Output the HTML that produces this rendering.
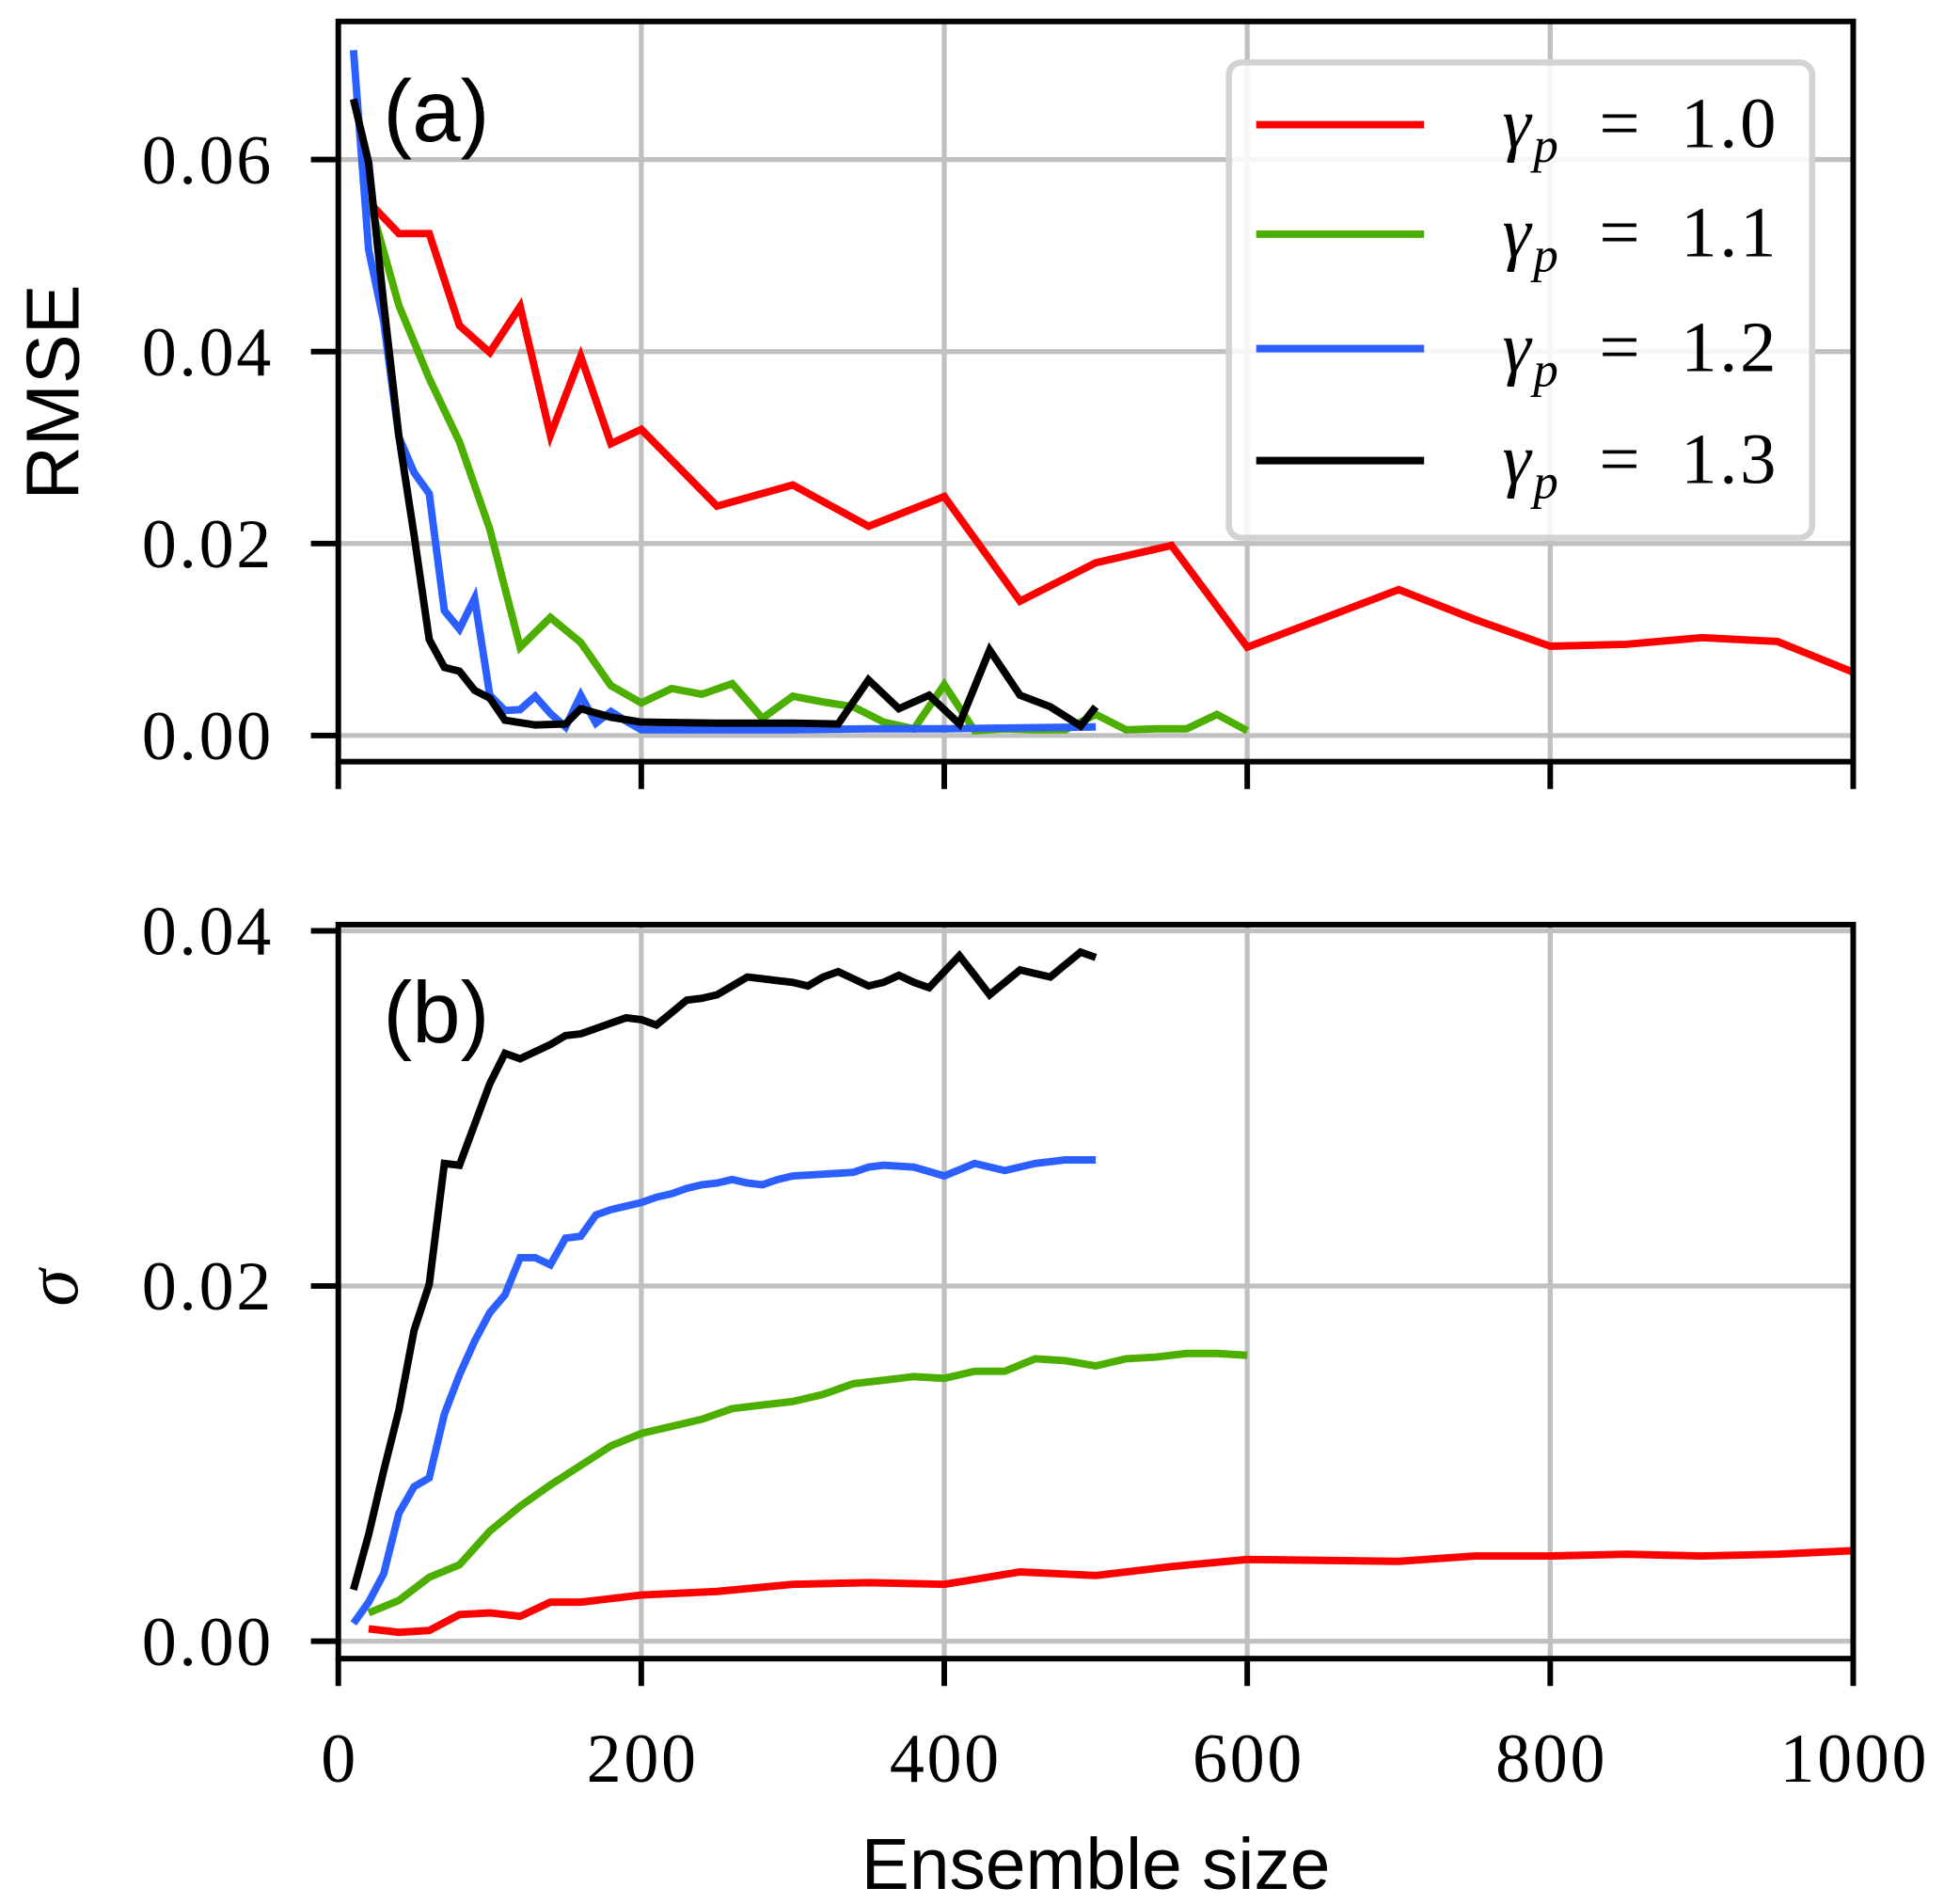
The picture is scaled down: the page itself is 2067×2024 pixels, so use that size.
<!DOCTYPE html>
<html><head><meta charset="utf-8"><style>
html,body{margin:0;padding:0;background:#fff;}
svg{display:block;}
</style></head><body>
<svg id="chart" width="2067" height="2024" viewBox="0 0 1563 1530" xmlns="http://www.w3.org/2000/svg">
<g id="gA"></g>
<g id="gB"></g>
</svg>
<script>
const xTicks = [0, 200, 400, 600, 800, 1000];
const yTicksA = [0.00, 0.02, 0.04, 0.06];
const yTicksB = [0.00, 0.02, 0.04];
const seriesNames = ["γp = 1.0", "γp = 1.1", "γp = 1.2", "γp = 1.3"];
const seriesLabels = ["1.0", "1.1", "1.2", "1.3"];
const colors = ["#ff0000", "#4caf00", "#2b5fff", "#000000"];

const rmseRedX = [20,40,60,80,100,120,140,160,180,200,250,300,350,400,450,500,550,600,700,750,800,850,900,950,1000];
const rmseRedY = [0.0556,0.0523,0.0523,0.0427,0.0399,0.0447,0.0313,0.0395,0.0304,0.0319,0.0239,0.0261,0.0218,0.0249,0.014,0.018,0.0198,0.0092,0.0152,0.0121,0.0093,0.0095,0.0102,0.0098,0.0066];
const rmseGreenX = [20,40,60,80,100,120,140,160,180,200,220,240,260,280,300,320,340,360,380,400,420,440,460,480,500,520,540,560,580,600];
const rmseGreenY = [0.056,0.0448,0.0372,0.0306,0.0215,0.0092,0.0123,0.0097,0.0052,0.0034,0.0049,0.0043,0.0054,0.0018,0.0041,0.0035,0.003,0.0014,0.0007,0.0053,0.0005,0.0007,0.0006,0.0006,0.0022,0.0006,0.0007,0.0007,0.0022,0.0005];
const rmseBlueX = [10,20,30,40,50,60,70,80,90,100,110,120,130,140,150,160,170,180,190,200,250,300,350,400,450,500];
const rmseBlueY = [0.0714,0.0506,0.0431,0.0311,0.0274,0.0252,0.013,0.0111,0.0143,0.0042,0.0026,0.0027,0.0041,0.0023,0.0009,0.0042,0.0013,0.0025,0.0015,0.0006,0.0006,0.0006,0.0007,0.0007,0.0008,0.0009];
const rmseBlackX = [10,20,30,40,50,60,70,80,90,100,110,130,150,160,180,200,250,300,330,350,370,390,410,430,450,470,490,500];
const rmseBlackY = [0.0663,0.0597,0.045,0.0312,0.0209,0.01,0.0071,0.0067,0.0047,0.0039,0.0016,0.0011,0.0012,0.0028,0.0019,0.0014,0.0013,0.0013,0.0012,0.0058,0.0028,0.0042,0.0012,0.0089,0.0042,0.003,0.001,0.003];

const sigRedX = [20,40,60,80,100,120,140,160,200,250,300,350,400,450,500,550,600,700,750,800,850,900,950,1000];
const sigRedY = [0.0007,0.0005,0.0006,0.0015,0.0016,0.0014,0.0022,0.0022,0.0026,0.0028,0.0032,0.0033,0.0032,0.0039,0.0037,0.0042,0.0046,0.0045,0.0048,0.0048,0.0049,0.0048,0.0049,0.0051];
const sigGreenX = [20,40,60,80,100,120,140,160,180,200,220,240,260,280,300,320,340,360,380,400,420,440,460,480,500,520,540,560,580,600];
const sigGreenY = [0.0016,0.0023,0.0036,0.0043,0.0062,0.0076,0.0088,0.0099,0.011,0.0117,0.0121,0.0125,0.0131,0.0133,0.0135,0.0139,0.0145,0.0147,0.0149,0.0148,0.0152,0.0152,0.0159,0.0158,0.0155,0.0159,0.016,0.0162,0.0162,0.0161];
const sigBlueX = [10,20,30,40,50,60,70,80,90,100,110,120,130,140,150,160,170,180,190,200,210,220,230,240,250,260,270,280,290,300,320,340,350,360,380,400,420,440,460,480,500];
const sigBlueY = [0.001,0.0022,0.0038,0.0072,0.0087,0.0092,0.0128,0.015,0.0169,0.0185,0.0195,0.0216,0.0216,0.0212,0.0227,0.0228,0.024,0.0243,0.0245,0.0247,0.025,0.0252,0.0255,0.0257,0.0258,0.026,0.0258,0.0257,0.026,0.0262,0.0263,0.0264,0.0267,0.0268,0.0267,0.0262,0.0269,0.0265,0.0269,0.0271,0.0271];
const sigBlackX = [10,20,30,40,50,60,70,80,90,100,110,120,130,140,150,160,170,180,190,200,210,220,230,240,250,260,270,280,290,300,310,320,330,340,350,360,370,380,390,400,410,420,430,440,450,460,470,480,490,500];
const sigBlackY = [0.0029,0.006,0.0096,0.013,0.0175,0.0201,0.0269,0.0268,0.0291,0.0314,0.0331,0.0328,0.0332,0.0336,0.0341,0.0342,0.0345,0.0348,0.0351,0.035,0.0347,0.0354,0.0361,0.0362,0.0364,0.0369,0.0374,0.0373,0.0372,0.0371,0.0369,0.0374,0.0377,0.0373,0.0369,0.0371,0.0375,0.0371,0.0368,0.0377,0.0386,0.0375,0.0364,0.0371,0.0378,0.0376,0.0374,0.0381,0.0388,0.0385];

const NS = "http://www.w3.org/2000/svg";
const X0 = 272, X1 = 1490;
const xs = v => X0 + (X1 - X0) * v / 1000;
const yA = v => 591 - v * 7716;
const yB = v => 1319 - v * 14275;

function mk(parent, tag, attrs, text) {
  const e = document.createElementNS(NS, tag);
  for (const k in attrs) e.setAttribute(k, attrs[k]);
  if (text !== undefined) e.textContent = text;
  parent.appendChild(e);
  return e;
}
const fmt = v => v.toFixed(2);
const TICKFONT = {"font-family": "Liberation Serif, serif", "font-size": 56, "letter-spacing": 2};

function panel(g, top, bottom, yf, yticks, series, withXLabels) {
  const cid = "clip" + top;
  const cp = mk(g, "clipPath", {id: cid});
  mk(cp, "rect", {x: X0, y: top, width: X1 - X0, height: bottom - top});
  xTicks.forEach(t => {
    const gl = mk(g, "line", {x1: xs(t), x2: xs(t), y1: top, y2: bottom, stroke: "#c0c0c0", "stroke-width": 4});
    
    
  });
  yticks.forEach(t => {
    const gl = mk(g, "line", {x1: X0, x2: X1, y1: yf(t), y2: yf(t), stroke: "#c0c0c0", "stroke-width": 4});
    
    
  });
  series.forEach((s, i) => {
    const pts = s[0].map((x, j) => xs(x).toFixed(1) + "," + yf(s[1][j]).toFixed(1)).join(" ");
    const pl = mk(g, "polyline", {points: pts, fill: "none", stroke: colors[i], "stroke-width": 6, "stroke-linejoin": "miter", "clip-path": "url(#" + cid + ")"});
    
    
  });
  const fr = mk(g, "rect", {x: X0, y: top, width: X1 - X0, height: bottom - top, fill: "none", stroke: "#000", "stroke-width": 4.5});
  
  
  yticks.forEach(t => {
    const tk = mk(g, "line", {x1: X0 - 22, x2: X0, y1: yf(t), y2: yf(t), stroke: "#000", "stroke-width": 4.5});
    
    
    const lb = mk(g, "text", Object.assign({x: 220, y: yf(t) + 19, "text-anchor": "end"}, TICKFONT), fmt(t));
    
    
  });
  xTicks.forEach(t => {
    const tk = mk(g, "line", {x1: xs(t), x2: xs(t), y1: bottom, y2: bottom + 22, stroke: "#000", "stroke-width": 4.5});
    
    
    if (withXLabels) {
      const lb = mk(g, "text", Object.assign({x: xs(t) + 1, y: 1432, "text-anchor": "middle"}, TICKFONT), String(t));
      
      
    }
  });
}

const gA = document.getElementById("gA");
const gB = document.getElementById("gB");
panel(gA, 17, 612, yA, yTicksA, [[rmseRedX, rmseRedY], [rmseGreenX, rmseGreenY], [rmseBlueX, rmseBlueY], [rmseBlackX, rmseBlackY]], false);
panel(gB, 743, 1333, yB, yTicksB, [[sigRedX, sigRedY], [sigGreenX, sigGreenY], [sigBlueX, sigBlueY], [sigBlackX, sigBlackY]], true);

let t = mk(gA, "text", {x: 308, y: 113, "font-family": "Liberation Sans, sans-serif", "font-size": 70}, "(a)");


t = mk(gB, "text", {x: 308, y: 838, "font-family": "Liberation Sans, sans-serif", "font-size": 70}, "(b)");



t = mk(gA, "text", {x: 0, y: 0, transform: "translate(63,315) rotate(-90)", "text-anchor": "middle", "font-family": "Liberation Sans, sans-serif", "font-size": 60}, "RMSE");


t = mk(gB, "text", {x: 0, y: 0, transform: "translate(62,1035) rotate(-90)", "text-anchor": "middle", "font-family": "Liberation Serif, serif", "font-style": "italic", "font-size": 60}, "σ");


t = mk(gB, "text", {x: 881, y: 1518, "text-anchor": "middle", "font-family": "Liberation Sans, sans-serif", "font-size": 58}, "Ensemble size");



const lg = mk(gA, "g", {});


mk(lg, "rect", {x: 988, y: 50, width: 469, height: 382, rx: 10, fill: "#fff", "fill-opacity": 0.85, stroke: "#d3d3d3", "stroke-width": 5});
const legY = [100, 188, 280, 370];
seriesLabels.forEach((s, i) => {
  const e = mk(lg, "g", {});
  
  
  mk(e, "line", {x1: 1010, x2: 1145, y1: legY[i], y2: legY[i], stroke: colors[i], "stroke-width": 6});
  const tx = mk(e, "text", {x: 1430, y: legY[i] + 18, "text-anchor": "end", "font-family": "Liberation Serif, serif", "font-size": 58, "letter-spacing": 2});
  mk(tx, "tspan", {"font-style": "italic"}, "γ");
  mk(tx, "tspan", {"font-style": "italic", "font-size": 40, dy: 12}, "p");
  mk(tx, "tspan", {dy: -12}, "\u2002=\u2002" + s);
});
</script>
</body></html>
